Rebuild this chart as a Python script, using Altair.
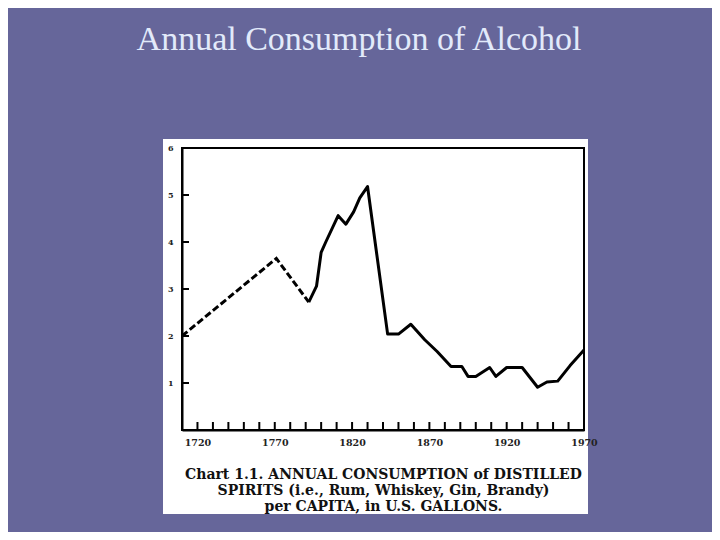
import altair as alt
import pandas as pd

# Data (per-capita US gallons of distilled spirits)
dash_years = [1710, 1771, 1792]
dash_vals = [2.0, 3.65, 2.72]
solid_years = [1792, 1797, 1800, 1803, 1811, 1816, 1821, 1825, 1830, 1843, 1850,
               1858, 1867, 1875, 1884, 1891, 1895, 1900, 1909, 1913, 1920, 1930,
               1940, 1946, 1953, 1961, 1970]
solid_vals = [2.72, 3.06, 3.78, 4.0, 4.56, 4.38, 4.64, 4.94, 5.18, 2.04, 2.04,
              2.25, 1.92, 1.67, 1.35, 1.35, 1.14, 1.14, 1.33, 1.14, 1.33, 1.33,
              0.91, 1.02, 1.04, 1.37, 1.70]
x_label_years = [1720, 1770, 1820, 1870, 1920, 1970]
x_tick_years = list(range(1720, 1970, 10))
y_tick_vals = [1, 2, 3, 4, 5]
y_label_vals = [1, 2, 3, 4, 5, 6]

title_text = "Annual Consumption of Alcohol"
caption = ["Chart 1.1. ANNUAL CONSUMPTION of DISTILLED",
           "SPIRITS (i.e., Rum, Whiskey, Gin, Brandy)",
           "per CAPITA, in U.S. GALLONS."]

W, H = 402, 282
x_scale = alt.Scale(domain=[1710, 1970], nice=False, zero=False)
y_scale = alt.Scale(domain=[0, 6], nice=False)

dash_df = pd.DataFrame({"year": dash_years, "value": dash_vals})
solid_df = pd.DataFrame({"year": solid_years, "value": solid_vals})
xt_df = pd.DataFrame({"year": x_tick_years})
yt_df = pd.DataFrame({"value": y_tick_vals})

x_axis = alt.Axis(values=x_label_years, title=caption, ticks=False, grid=False,
                  labelFont="DejaVu Serif", labelFontWeight="bold", labelFontSize=9.5,
                  labelColor="#222222", labelPadding=7, domainColor="black",
                  domainWidth=2, format="d", labelFlush=False,
                  titleFont="DejaVu Serif", titleFontWeight="bold", titleFontSize=14,
                  titleColor="#111111", titleLineHeight=16, titleBaseline="top",
                  titleY=37, zindex=1)
y_axis = alt.Axis(values=y_label_vals, title=None, ticks=False, grid=False,
                  labelFont="DejaVu Serif", labelFontWeight="bold", labelFontSize=8,
                  labelColor="#222222", labelPadding=9, domainColor="black",
                  domainWidth=2, zindex=1)

# white paper of the scanned figure
paper = alt.Chart(pd.DataFrame({"a": [0]})).mark_rect(color="white", clip=False).encode(
    x=alt.value(-19), x2=alt.value(406), y=alt.value(-9), y2=alt.value(366))

frame = alt.Chart(pd.DataFrame({"a": [0]})).mark_rect(
    filled=False, stroke="black", strokeWidth=2).encode(
    x=alt.value(0), x2=alt.value(W), y=alt.value(0), y2=alt.value(H))

dashed = alt.Chart(dash_df).mark_line(color="black", strokeWidth=3, strokeDash=[7, 3]).encode(
    x=alt.X("year:Q", scale=x_scale, axis=x_axis),
    y=alt.Y("value:Q", scale=y_scale, axis=y_axis))

solid = alt.Chart(solid_df).mark_line(color="black", strokeWidth=3, strokeJoin="round").encode(
    x=alt.X("year:Q", scale=x_scale),
    y=alt.Y("value:Q", scale=y_scale))

xticks = alt.Chart(xt_df).mark_rule(color="black", strokeWidth=2).encode(
    x=alt.X("year:Q", scale=x_scale), y=alt.value(H), y2=alt.value(H - 8))

yticks = alt.Chart(yt_df).mark_rule(color="black", strokeWidth=2).encode(
    y=alt.Y("value:Q", scale=y_scale), x=alt.value(0), x2=alt.value(7))

chart = alt.layer(paper, frame, xticks, yticks, dashed, solid).properties(
    width=W, height=H,
    background="#66669a",
    padding={"left": 174, "top": 140, "right": 128, "bottom": 102},
    autosize=alt.AutoSizeParams(type="none"),
    title=alt.TitleParams(title_text, font="Liberation Serif", fontSize=34,
                          fontWeight="normal", color="#e2eafa", anchor="middle",
                          frame="group", baseline="alphabetic", offset=55, dx=-24),
).configure_view(stroke=None)

chart.save("out.html", embed_options={"renderer": "svg", "actions": False})
